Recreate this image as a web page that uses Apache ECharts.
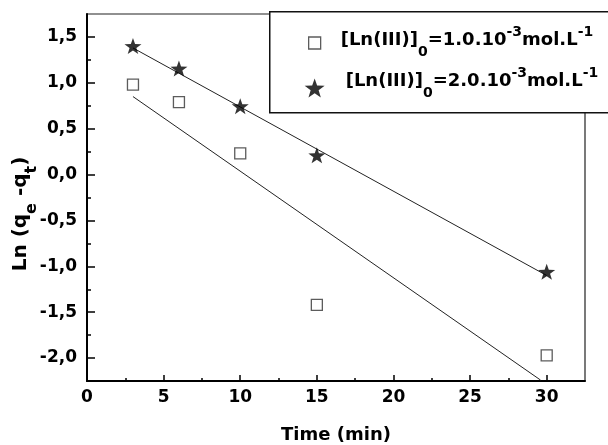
<!DOCTYPE html>
<html><head><meta charset="utf-8">
<script src="https://cdn.jsdelivr.net/npm/echarts@6/dist/echarts.min.js"></script>
<style>html,body{margin:0;padding:0;background:#fff}#c{width:608px;height:445px}</style>
</head><body><div id="c"></div>
<script>
// ---- data ----
const timeSquares = [3, 6, 10, 15, 30];
const lnSquares = [0.98, 0.79, 0.23, -1.42, -1.97];
const timeStars = [3, 6, 10, 15, 30];
const lnStars = [1.40, 1.155, 0.745, 0.21, -1.06];
// fitted lines, endpoints
const fitSquaresX = [3, 29.6];
const fitSquaresY = [0.85, -2.24];
const fitStarsX = [3, 30];
const fitStarsY = [1.38, -1.10];
// axis ticks
const xTicks = [0, 5, 10, 15, 20, 25, 30];
const xMinorTicks = [2.5, 7.5, 12.5, 17.5, 22.5, 27.5];
const yTicks = [-2.0, -1.5, -1.0, -0.5, 0, 0.5, 1.0, 1.5];
const yMinorTicks = [-1.75, -1.25, -0.75, -0.25, 0.25, 0.75, 1.25];
const seriesNames = ['c1', 'c2'];
const concentrations = ['1.0', '2.0'];

const FONT = 'DejaVu Sans';
const pairs = (xs, ys) => xs.map((x, i) => [x, ys[i]]);
const STAR = 'path://M0,-10L2.35,-3.24L9.51,-3.09L3.8,1.24L5.88,8.09L0,4L-5.88,8.09L-3.8,1.24L-9.51,-3.09L-2.35,-3.24Z';
const SQUARE_ICON = 'path://M0,0M20,20M4,4H16V16H4Z';

const chart = echarts.init(document.getElementById('c'), null, {renderer: 'canvas'});
const tickLabel = {fontFamily: FONT, fontWeight: 'bold', fontSize: 17, color: '#000'};
const txt = (size, pad) => ({fontFamily: FONT, fontWeight: 'bold', fontSize: size, color: '#000', padding: pad});

chart.setOption({
  animation: false,
  backgroundColor: '#fff',
  grid: {left: 87, right: 23, top: 14, bottom: 64, containLabel: false, outerBoundsMode: 'none',
    show: true, borderColor: '#222', borderWidth: 1.2, backgroundColor: 'transparent'},
  graphic: [{
    type: 'rect', left: 269, top: 11, z: 3,
    shape: {width: 360, height: 101},
    style: {fill: '#fff', stroke: '#111', lineWidth: 1.5}
  }],
  legend: {
    orient: 'vertical', left: 304, top: 25, z: 5,
    padding: 0, itemGap: 7.5, itemWidth: 20, itemHeight: 20,
    data: [
      {name: seriesNames[0], icon: SQUARE_ICON, itemStyle: {color: '#fff', borderColor: '#333', borderWidth: 1.3}},
      {name: seriesNames[1], icon: STAR, itemStyle: {color: '#000'}}
    ],
    formatter: function (name) {
      const i = seriesNames.indexOf(name);
      const s = i === 0 ? '' : '2';
      return '{p' + i + '|}{m' + s + '|[Ln(III)]}{sub' + s + '|0}{m' + s + '|=' + concentrations[i] + '.10}{sup' + s + '|-3}{m' + s + '|mol.L}{sup' + s + '|-1}';
    },
    textStyle: {
      rich: {
        p0: {width: 11},
        p1: {width: 16},
        m: txt(18, [0, 0, 6, 0]),
        sub: txt(14, [18, 0, 0, 0]),
        sup: txt(14, [0, 0, 22, 0]),
        m2: txt(18, [0, 0, 13, 0]),
        sub2: txt(14, [18, 0, 7, 0]),
        sup2: txt(14, [0, 0, 29, 0])
      }
    }
  },
  xAxis: [{
    type: 'value', min: 0, max: 32.5, interval: 2.5,
    name: 'Time (min)', nameLocation: 'middle', nameGap: 45, nameMoveOverlap: false,
    nameTextStyle: {fontFamily: FONT, fontWeight: 'bold', fontSize: 18, color: '#000'},
    axisLine: {show: true, onZero: false, lineStyle: {color: '#000', width: 2}},
    axisTick: {show: true, inside: true, length: 6, customValues: xTicks, lineStyle: {color: '#000', width: 1.5}},
    axisLabel: Object.assign({customValues: xTicks, margin: 8, formatter: v => String(v)}, tickLabel),
    splitLine: {show: false}
  }, {
    type: 'value', min: 0, max: 32.5, interval: 2.5, position: 'bottom',
    axisLine: {show: false, onZero: false},
    axisTick: {show: true, inside: true, length: 3, customValues: xMinorTicks, lineStyle: {color: '#000', width: 1.5}},
    axisLabel: {show: false}, splitLine: {show: false}
  }],
  yAxis: [{
    type: 'value', min: -2.25, max: 1.75, interval: 0.25,
    name: '{a|Ln (q}{s|e}{a| -q}{s|t}{a|)}', nameLocation: 'middle', nameRotate: 90, nameGap: 47, nameMoveOverlap: false,
    nameTextStyle: {
      padding: [0, 33, 0, 0],
      rich: {
        a: txt(20, 0),
        s: txt(16, [22, 0, 0, 0])
      }
    },
    axisLine: {show: true, onZero: false, lineStyle: {color: '#000', width: 2}},
    axisTick: {show: true, inside: true, length: 8, customValues: yTicks, lineStyle: {color: '#000', width: 1.5}},
    axisLabel: Object.assign({customValues: yTicks, margin: 10, formatter: v => v.toFixed(1).replace('.', ',')}, tickLabel),
    splitLine: {show: false}
  }, {
    type: 'value', min: -2.25, max: 1.75, interval: 0.25, position: 'left',
    axisLine: {show: false, onZero: false},
    axisTick: {show: true, inside: true, length: 4, customValues: yMinorTicks, lineStyle: {color: '#000', width: 1.5}},
    axisLabel: {show: false}, splitLine: {show: false}
  }],
  series: [{
    name: seriesNames[0], type: 'scatter', xAxisIndex: 0, yAxisIndex: 0,
    symbol: 'rect', symbolSize: 11,
    itemStyle: {color: '#fff', borderColor: '#333', borderWidth: 1.3},
    data: pairs(timeSquares, lnSquares), z: 3
  }, {
    name: seriesNames[1], type: 'scatter', xAxisIndex: 0, yAxisIndex: 0,
    symbol: STAR, symbolSize: [17, 16],
    itemStyle: {color: '#000'},
    data: pairs(timeStars, lnStars), z: 3
  }, {
    name: 'fit1', type: 'line', xAxisIndex: 0, yAxisIndex: 0,
    data: pairs(fitSquaresX, fitSquaresY), showSymbol: false, symbol: 'none',
    lineStyle: {color: '#222', width: 1}, silent: true, z: 2
  }, {
    name: 'fit2', type: 'line', xAxisIndex: 0, yAxisIndex: 0,
    data: pairs(fitStarsX, fitStarsY), showSymbol: false, symbol: 'none',
    lineStyle: {color: '#222', width: 1}, silent: true, z: 2
  }]
});
</script></body></html>
